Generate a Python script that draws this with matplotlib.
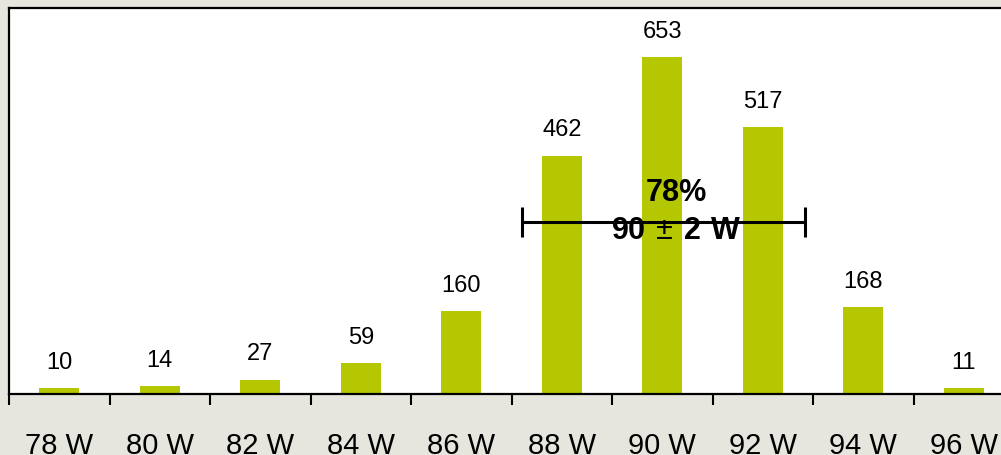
import matplotlib
matplotlib.use('Agg')
import matplotlib.pyplot as plt

plt.rcParams['font.family'] = ['Liberation Sans', 'DejaVu Sans']
plt.rcParams['mathtext.fontset'] = 'custom'
plt.rcParams['mathtext.rm'] = 'Liberation Sans'
plt.rcParams['mathtext.bf'] = 'Liberation Sans:bold'

# power classes (W) and unit counts
watts = [78, 80, 82, 84, 86, 88, 90, 92, 94, 96]
counts = [10, 14, 27, 59, 160, 462, 653, 517, 168, 11]
labels = ['%d W' % w for w in watts]

# range bar around the peak
range_lo = 87.2
range_hi = 92.85
range_share = '78%'

bar_color = '#B4C700'
bg = '#E6E6DE'

fig = plt.figure(figsize=(10.01, 4.56), dpi=100, facecolor=bg)
ax = fig.add_axes([9 / 1001, 61.5 / 456, 1005 / 1001, 386 / 456])
ax.set_facecolor('white')

pos = [(w - watts[0]) / 2 for w in watts]
ax.bar(pos, counts, width=0.4, color=bar_color, zorder=2)

for x, c in zip(pos, counts):
    ax.annotate(str(c), (x, c), xytext=(0, 11), textcoords='offset points',
                ha='center', va='bottom', fontsize=17)

lo = (range_lo - watts[0]) / 2
hi = (range_hi - watts[0]) / 2
mid = (lo + hi) / 2
ax.errorbar(mid, 333, xerr=(hi - lo) / 2, color='black', elinewidth=2.2,
            capsize=10.8, capthick=2.2, fmt='none', zorder=3)
ax.text(6.14, 392, range_share, ha='center', va='center', fontsize=22,
        fontweight='bold', zorder=4)
ax.text(6.14, 317, r'$\mathbf{90}\,\pm\,\mathbf{2\ W}$', ha='center',
        va='center', fontsize=22, zorder=4)

ax.set_xlim(-0.5, 9.5)
ax.set_ylim(0, 750)
ax.set_yticks([])
ax.set_xticks([p + 0.5 for p in pos[:-1]] + [-0.5], minor=False)
ax.set_xticks(pos, minor=True)
ax.set_xticklabels(labels, minor=True, fontsize=21)
ax.set_xticklabels([], minor=False)
ax.tick_params(axis='x', which='major', length=8, width=1.5, direction='out')
ax.tick_params(axis='x', which='minor', length=0, pad=27)

for side in ['left', 'top', 'bottom', 'right']:
    ax.spines[side].set_linewidth(1.6)
    ax.spines[side].set_color('black')

fig.savefig('out.png', dpi=100, facecolor=bg)
